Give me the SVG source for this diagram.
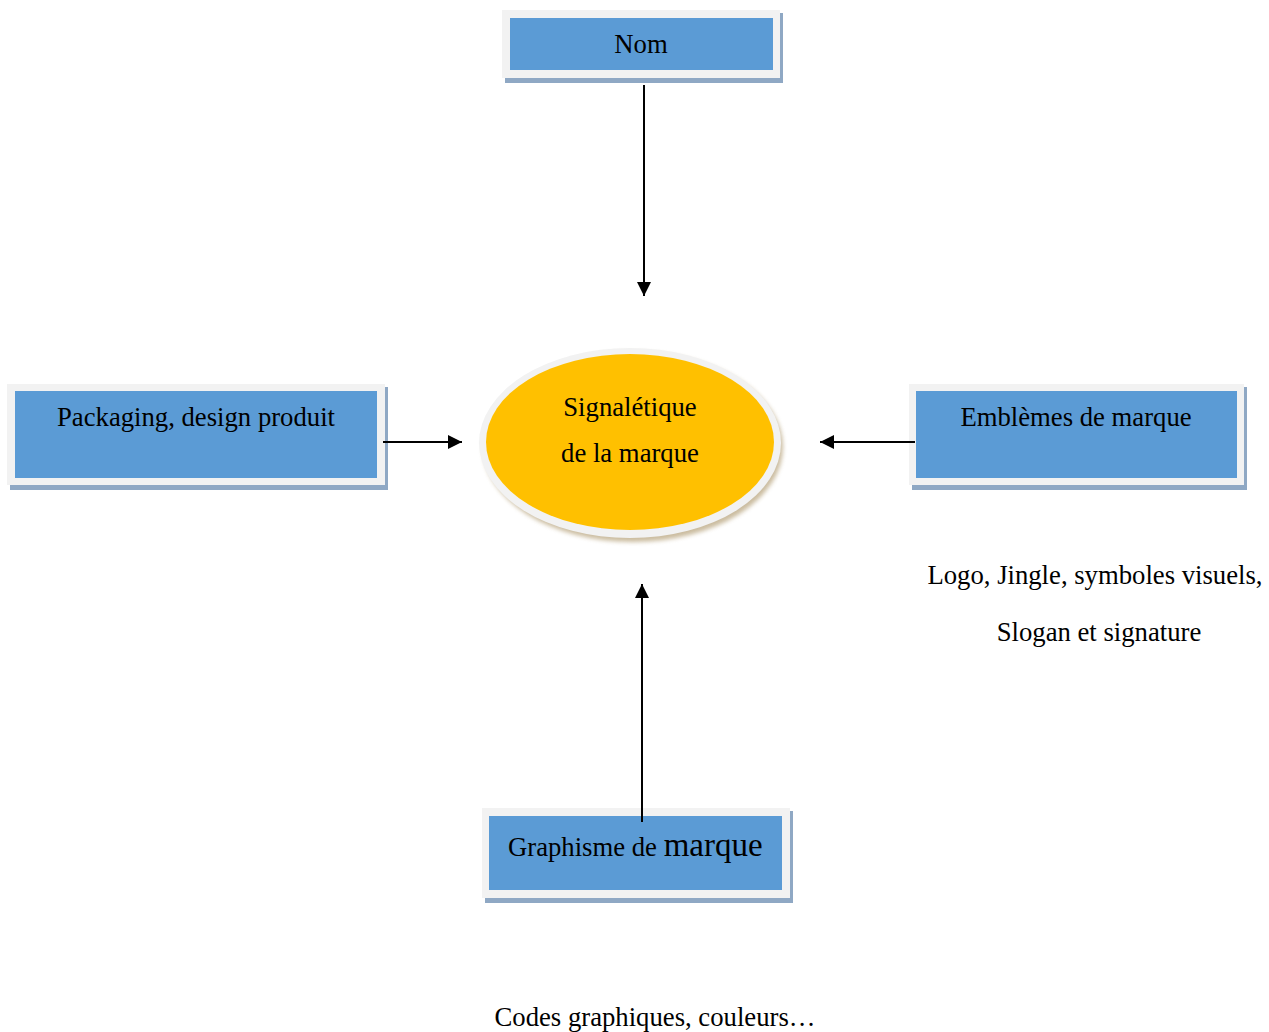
<svg xmlns="http://www.w3.org/2000/svg" width="1269" height="1032" viewBox="0 0 1269 1032">
<defs>
<style>
.shadow{fill:#8fa8c4}
.frame{fill:#f2f2f2}
.box{fill:#5b9bd5}
.t{font-family:"Liberation Serif","Times New Roman",serif;font-size:26.7px;fill:#000}
.c{stroke:#000;stroke-width:2;fill:none}
</style>
<marker id="ah" viewBox="0 0 10 10" refX="10" refY="5" markerWidth="16" markerHeight="14" markerUnits="userSpaceOnUse" orient="auto">
<path d="M0,0 L10,5 L0,10 Z" fill="#000"/>
</marker>
<filter id="blur" x="-10%" y="-10%" width="120%" height="120%"><feGaussianBlur stdDeviation="2"/></filter>
</defs>
<rect width="1269" height="1032" fill="#fff"/>
<g id="nom">
<rect class="shadow" x="505" y="13" width="278" height="70"/>
<rect class="frame" x="502" y="10" width="278" height="68"/>
<rect class="box" x="510" y="18" width="263" height="52"/>
<text class="t" x="641" y="53" text-anchor="middle">Nom</text>
</g>
<g id="packaging">
<rect class="shadow" x="10" y="387" width="378" height="103"/>
<rect class="frame" x="7" y="384" width="378" height="101"/>
<rect class="box" x="15" y="391" width="362" height="87"/>
<text class="t" x="196" y="426" text-anchor="middle">Packaging, design produit</text>
</g>
<g id="emblemes">
<rect class="shadow" x="912" y="387" width="335" height="103"/>
<rect class="frame" x="909" y="384" width="335" height="101"/>
<rect class="box" x="916" y="391" width="321" height="87"/>
<text class="t" x="1076" y="426" text-anchor="middle">Emblèmes de marque</text>
</g>
<g id="graphisme">
<rect class="shadow" x="485" y="811" width="308" height="92"/>
<rect class="frame" x="482" y="808" width="308" height="90"/>
<rect class="box" x="489" y="816" width="293" height="74"/>
<text class="t" x="508" y="856">Graphisme de <tspan font-size="33">marque</tspan></text>
</g>
<g id="signaletique">
<ellipse cx="633" cy="447" rx="150" ry="95" fill="#a89060" opacity="0.6" filter="url(#blur)"/>
<ellipse cx="630" cy="443" rx="151" ry="95" fill="#f2f2f2"/>
<ellipse cx="630" cy="442" rx="144" ry="88" fill="#ffc000"/>
<text class="t" x="630" y="416" text-anchor="middle">Signalétique</text>
<text class="t" x="630" y="462" text-anchor="middle">de la marque</text>
</g>
<g id="notes">
<text class="t" x="1095" y="584" text-anchor="middle">Logo, Jingle, symboles visuels,</text>
<text class="t" x="1099" y="641" text-anchor="middle">Slogan et signature</text>
<text class="t" x="655" y="1026" text-anchor="middle">Codes graphiques, couleurs…</text>
</g>
<g id="connectors">
<line class="c" x1="644" y1="85" x2="644" y2="296" marker-end="url(#ah)"/>
<line class="c" x1="383" y1="442" x2="462" y2="442" marker-end="url(#ah)"/>
<line class="c" x1="915" y1="442" x2="820" y2="442" marker-end="url(#ah)"/>
<line class="c" x1="642" y1="822" x2="642" y2="584" marker-end="url(#ah)"/>
</g>
</svg>
